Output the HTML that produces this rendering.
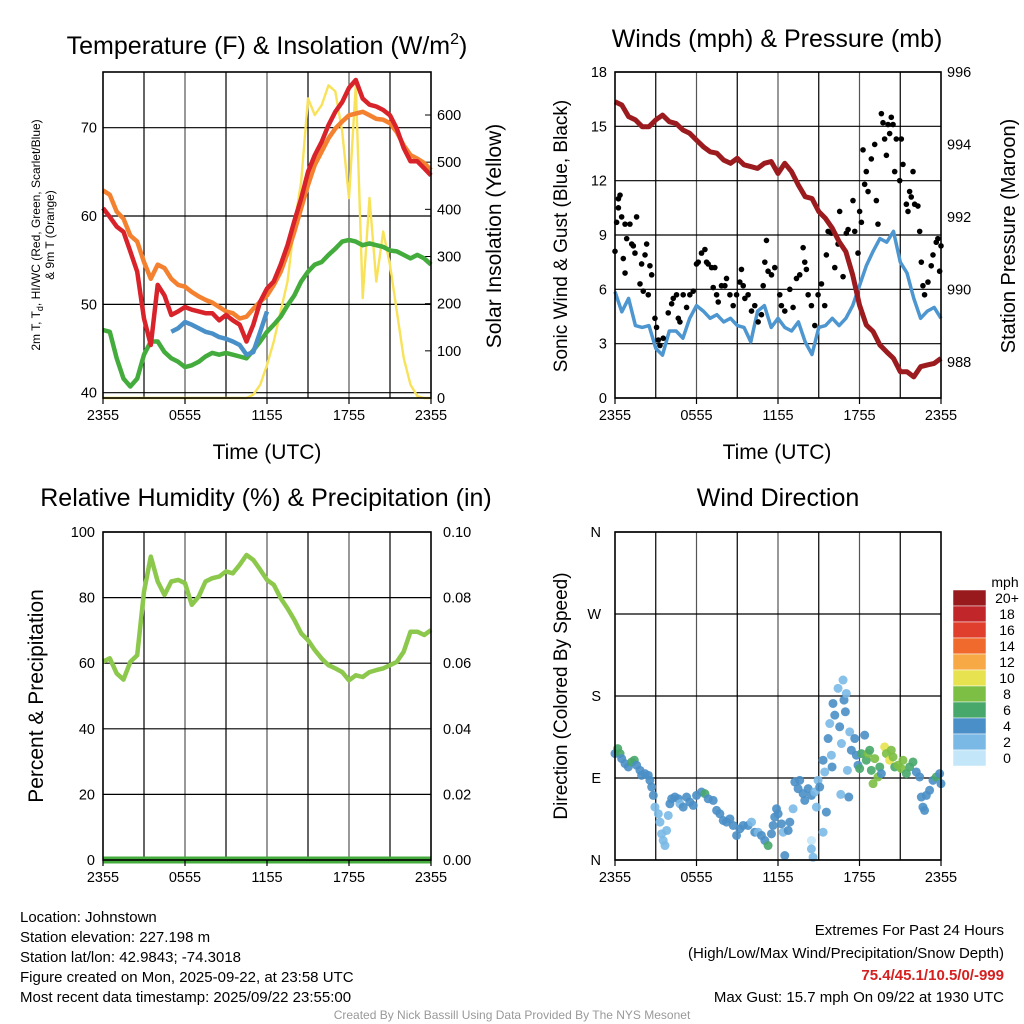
<!DOCTYPE html>
<html><head><meta charset="utf-8"><style>
html,body{margin:0;padding:0;background:#fff}
svg{display:block;font-family:"Liberation Sans",sans-serif}
</style></head><body>
<svg id="c" width="1024" height="1024" viewBox="0 0 1024 1024" xmlns="http://www.w3.org/2000/svg">
<rect x="0" y="0" width="1024" height="1024" fill="#fff"/>
<g id="g"></g>
<text x="267" y="54" font-size="25" text-anchor="middle">Temperature (F) &amp; Insolation (W/m<tspan dy="-10" font-size="16">2</tspan><tspan dy="10">)</tspan></text>
<text x="777" y="47" font-size="25" text-anchor="middle">Winds (mph) &amp; Pressure (mb)</text>
<text x="266" y="506" font-size="25" text-anchor="middle">Relative Humidity (%) &amp; Precipitation (in)</text>
<text x="778" y="506" font-size="25" text-anchor="middle">Wind Direction</text>
<text x="267" y="459" font-size="21" text-anchor="middle">Time (UTC)</text>
<text x="777" y="459" font-size="21" text-anchor="middle">Time (UTC)</text>
<text transform="translate(40,235) rotate(-90)" font-size="12" text-anchor="middle">2m T, T<tspan dy="3" font-size="9">d</tspan><tspan dy="-3">, HI/WC (Red, Green, Scarlet/Blue)</tspan></text>
<text transform="translate(54,235) rotate(-90)" font-size="12" text-anchor="middle">&amp; 9m T (Orange)</text>
<text transform="translate(501,236) rotate(-90)" font-size="21" text-anchor="middle">Solar Insolation (Yellow)</text>
<text transform="translate(567,236) rotate(-90)" font-size="19" text-anchor="middle">Sonic Wind &amp; Gust (Blue, Black)</text>
<text transform="translate(1015,236) rotate(-90)" font-size="20" text-anchor="middle">Station Pressure (Maroon)</text>
<text transform="translate(43,696) rotate(-90)" font-size="21" text-anchor="middle">Percent &amp; Precipitation</text>
<text transform="translate(567,696) rotate(-90)" font-size="19" text-anchor="middle">Direction (Colored By Speed)</text>
<g font-size="15">
<text x="20" y="922">Location: Johnstown</text>
<text x="20" y="942">Station elevation: 227.198 m</text>
<text x="20" y="962">Station lat/lon: 42.9843; -74.3018</text>
<text x="20" y="982">Figure created on Mon, 2025-09-22, at 23:58 UTC</text>
<text x="20" y="1002">Most recent data timestamp: 2025/09/22 23:55:00</text>
</g>
<g font-size="15" text-anchor="end">
<text x="1004" y="935">Extremes For Past 24 Hours</text>
<text x="1004" y="958">(High/Low/Max Wind/Precipitation/Snow Depth)</text>
<text x="1004" y="980" fill="#d42020" font-weight="bold">75.4/45.1/10.5/0/-999</text>
<text x="1004" y="1002">Max Gust: 15.7 mph On 09/22 at 1930 UTC</text>
</g>
<text x="512" y="1019" font-size="12" fill="#999" text-anchor="middle">Created By Nick Bassill Using Data Provided By The NYS Mesonet</text>
</svg>
<script>
// Half-hourly series, hour 0..24 from 2355 UTC
const tempT=[60.9,59.9,58.8,58.2,56,53.7,48.4,45.4,52.2,51,48.8,49.2,49.7,49.4,49.2,49,49,48.2,48.8,48.2,47.7,45.8,47.7,50.3,51.8,52.6,54.5,56.7,59.4,62,65,66.9,68.4,70.3,71.8,72.9,74.5,75.4,73.3,72.6,72.4,72,71.4,69.9,67.7,66.2,66.2,65.4,64.6];
const temp9m=[62.9,62.4,60.5,59.7,57.8,57.1,54.8,52.9,54.5,54.1,52.9,52.2,52,51.4,50.9,50.5,50.2,49.7,49.2,49,48.4,48.6,49.5,50.3,51,52.2,53.7,55.8,58.2,60.9,63.5,65.8,67.3,68.8,69.9,70.7,71.4,71.6,71.8,71.4,71,70.9,70.5,69.5,68,66.9,66.5,66,65.2];
const dewpt=[47.1,46.9,43.9,41.6,40.7,41.6,44.3,45.8,45.8,44.6,43.9,43.5,42.9,43.1,43.5,44.1,44.5,44.3,44.5,44.3,44.1,43.9,44.8,45.8,46.9,47.7,48.6,49.9,51,52.6,53.7,54.5,54.8,55.6,56.3,57.1,57.3,57.1,56.7,56.9,56.7,56.5,56.1,56,55.6,55.2,55.6,55.2,54.5];
const hiwcStart=10;
const hiwc=[46.9,47.3,48,47.7,47.3,46.9,46.7,46.3,46.1,45.8,45.4,44.3,44.6,46.9,49.2];
const solar=[0,0,0,0,0,0,0,0,0,0,0,0,0,0,0,0,0,0,0,0,0,0,7,28,70,120,184,247,367,459,635,600,621,663,650,565,424,663,212,424,247,353,282,184,85,28,4,0,0];
const pressure=[995.18,995.09,994.77,994.68,994.49,994.49,994.68,994.81,994.63,994.58,994.4,994.31,994.12,993.94,993.8,993.76,993.57,993.48,993.62,993.44,993.39,993.34,993.48,993.53,993.2,993.48,993.25,992.88,992.56,992.51,992.15,991.96,991.69,991.32,991.04,990.4,989.57,989.02,988.84,988.47,988.28,988.1,987.73,987.73,987.59,987.87,987.92,987.96,988.1];
const wind=[5.87,4.76,5.5,4.0,3.9,4.0,2.74,2.37,3.7,3.7,3.3,4.4,5.1,4.8,4.4,4.6,4.2,4.4,4.0,3.9,3.1,4.8,5.1,3.9,4.4,3.9,3.7,4.2,3.1,2.4,3.9,4.0,4.4,4.0,4.4,5.1,6.2,7.3,8.1,8.8,8.6,9.2,7.5,6.9,5.5,4.4,4.8,5.0,4.4];
const gustH=[0,.12,.25,.37,.25,.49,.74,.86,1.1,1.23,1.35,1.47,1.59,.61,.74,1.84,1.96,2.08,2.21,2.33,2.45,2.57,2.7,2.94,3.06,3.19,3.31,3.55,3.92,4.17,4.29,4.53,4.66,4.78,5.02,5.27,5.51,5.76,6.0,6.13,6.37,6.62,6.74,6.86,7.11,7.35,7.23,7.48,7.6,7.84,8.09,8.21,8.46,8.7,8.95,9.19,9.31,9.44,9.56,9.8,10.05,10.29,10.54,10.78,10.91,11.03,11.15,11.27,11.52,11.76,12.13,12.25,12.5,12.87,13.11,13.36,13.6,13.85,13.97,14.09,14.22,14.46,14.71,14.95,15.2,15.44,15.56,15.69,15.93,16.18,16.42,16.54,16.79,17.03,17.16,17.52,17.65,17.89,18.01,18.14,18.26,18.38,18.5,18.63,18.87,19.12,19.24,19.36,19.61,19.73,19.85,19.98,20.1,20.22,20.34,20.47,20.59,20.71,20.96,21.08,21.2,21.45,21.57,21.69,21.81,21.94,22.06,22.3,22.43,22.55,22.67,22.79,23.04,23.28,23.41,23.65,23.77,23.9,24];
const gustV=[8.1,9.7,11.0,11.2,10.5,10.0,9.6,8.8,9.6,8.5,8.4,8.0,10.0,7.7,6.9,6.3,7.4,5.9,7.9,8.5,5.7,7.3,6.8,4.4,3.9,3.2,2.9,3.3,4.7,5.2,5.5,5.7,4.4,4.2,5.7,5.0,5.7,5.9,7.4,7.5,8.0,8.2,7.5,7.4,7.2,7.2,6.1,5.7,5.3,6.2,6.2,6.6,5.7,5.1,5.7,6.4,7.1,6.2,5.5,5.7,4.8,5.1,4.2,4.6,6.2,7.5,8.7,7.0,6.8,7.2,5.7,5.1,4.8,6.0,5.0,6.6,6.8,8.3,7.5,7.1,5.7,5.1,4.0,5.7,6.3,5.1,7.9,9.2,9.1,7.2,8.5,10.3,6.7,9.1,9.3,10.9,9.2,8.0,10.3,9.7,13.7,11.8,12.5,11.4,13.2,14.0,10.9,9.6,15.7,15.2,14.3,13.4,15.1,14.6,15.5,15.1,12.5,14.3,12.0,14.3,12.9,10.7,10.3,11.4,11.1,12.5,10.7,10.6,9.2,7.5,6.2,5.7,6.4,7.3,7.9,8.6,8.8,7.0,8.4];
const rh=[60.5,61.5,56.9,55,60.4,62.4,81.8,92.5,84.9,80.8,84.9,85.4,84.4,77.8,80.3,84.9,85.9,86.4,88,87.4,90,93,91.5,88.5,85.4,83.9,79.8,76.7,73.2,69.1,67,64,61.4,59.4,58.4,57.3,54.8,56.3,55.8,57.3,57.9,58.4,59.4,60.4,63.5,69.6,69.6,68.6,70.1];
const precip=[0,0,0,0,0,0,0,0,0,0,0,0,0,0,0,0,0,0,0,0,0,0,0,0,0,0,0,0,0,0,0,0,0,0,0,0,0,0,0,0,0,0,0,0,0,0,0,0,0];
const dirH=[0,.2,.37,.49,.74,.98,1.23,1.42,1.59,1.84,1.96,2.21,2.45,2.57,2.7,2.82,2.94,3.19,3.31,3.43,3.55,3.68,3.8,3.92,4.04,4.17,4.41,4.66,4.78,5.02,5.27,5.51,5.76,6.0,6.37,6.62,6.86,7.23,7.48,7.72,7.97,8.21,8.46,8.7,8.95,9.19,9.44,9.8,10.05,10.29,10.54,10.78,11.03,11.27,11.52,11.64,11.76,11.89,12.01,12.25,12.38,12.5,12.75,12.87,13.11,13.24,13.48,13.6,13.85,13.97,14.22,14.46,14.71,14.83,14.46,14.46,14.58,14.95,15.07,15.32,15.56,15.32,15.44,15.69,15.81,15.93,15.98,16.05,16.18,16.42,16.54,16.67,16.79,16.86,17.03,16.96,17.11,17.28,17.4,17.65,17.77,17.89,18.01,18.14,18.38,18.5,18.63,18.75,18.87,19.0,19.12,19.36,19.49,19.61,19.85,19.98,20.22,20.34,20.47,20.59,20.83,21.08,21.2,21.45,21.69,21.94,22.18,22.43,22.55,22.67,22.79,22.92,23.16,23.41,23.65,23.9,24,17.21,16.62];
const dirDeg=[116.8,122.3,116.8,111.3,105.8,102.1,107.6,109.5,104,98.4,92.9,94.8,92.9,87.4,80.1,70.9,58.1,50.7,41.6,28.7,21.4,15.9,32.4,48.9,61.7,67.2,69.1,67.2,61.7,58.1,69.1,63.6,59.9,70.9,74.6,72.8,67.2,65.4,54.4,50.7,43.4,41.6,45.2,37.9,26.9,34.2,37.9,37.9,41.6,30.5,30.5,26.9,21.4,15.9,28.7,37.9,47.1,56.2,50.7,39.7,30.5,4.9,32.4,41.6,56.2,85.6,78.3,87.4,72.8,65.4,78.3,70.9,74.6,58.1,21.4,12.2,3,87.4,80.1,30.5,52.6,109.5,96.6,133.3,149.8,115,102.1,171.8,159,188.4,146.2,127.8,197.5,175.5,182.8,162.7,98.4,140.6,120.5,133.3,115,104,100.3,116.8,137,109.5,116.8,120.5,98.4,83.8,111.3,91.1,102.1,94.8,124.1,116.8,109.5,120.5,113.1,102.1,104,100.3,109.5,94.8,102.1,107.6,96.6,91.1,69.1,58.1,54.4,70.9,76.5,87.4,91.1,94.8,83.8,69.1,72];
const dirSpd=[5,7,7,5,5,5,7,7,5,5,5,5,5,5,5,5,3,3,3,3,3,3,3,3,5,5,5,5,3,5,5,5,5,5,5,7,5,5,5,5,5,5,5,5,5,5,5,5,3,5,3,5,5,7,5,5,5,5,5,5,3,5,5,5,3,5,5,5,5,5,5,5,3,3,1,3,3,3,5,3,5,5,3,5,3,3,5,5,5,3,5,3,3,5,3,5,3,3,5,5,5,5,7,7,5,7,9,7,7,9,9,9,7,5,10.5,9,10.5,9,9,7,9,9,9,7,7,7,5,5,5,5,5,5,5,5,7,5,5,5,3];
const cbLabels=["20+","18","16","14","12","10","8","6","4","2","0"];
const cbColors=["#981a1d","#c1262b","#e13f2e","#ef6a2c","#f6a945","#e7e24f","#7cbf44","#48a76a","#4a8fc7","#7ab9e6","#c3e6f8"];
const timeTicks=["2355","0555","1155","1755","2355"];
const tempTicks=[40,50,60,70];
const solarTicks=[0,100,200,300,400,500,600];
const windTicks=[0,3,6,9,12,15,18];
const presTicks=[988,990,992,994,996];
const rhTicks=[0,20,40,60,80,100];
const precipTicks=["0.00","0.02","0.04","0.06","0.08","0.10"];
const dirTicks=["N","E","S","W","N"];

const NS="http://www.w3.org/2000/svg";
const G=document.getElementById('g');
function el(tag,attrs,parent){const e=document.createElementNS(NS,tag);for(const k in attrs)e.setAttribute(k,attrs[k]);(parent||G).appendChild(e);return e;}
function lin(d0,d1,r0,r1){return v=>r0+(v-d0)*(r1-r0)/(d1-d0);}

function frame(L,T,R,B,name){
  const g=el('g',{});
  
  
  for(let i=1;i<8;i++){const x=L+(R-L)*i/8;el('line',{x1:x,y1:T,x2:x,y2:B,stroke:(i%2?'#000':'#555'),'stroke-width':1.2},g);}
  return g;
}
function border(L,T,R,B,name){
  const r=el('rect',{x:L,y:T,width:R-L,height:B-T,fill:'none',stroke:'#000','stroke-width':1.6});
  
  
  const tg=el('g',{'font-size':14.5,'text-anchor':'middle'});
  
  
  timeTicks.forEach((t,i)=>{const x=L+(R-L)*i/4;el('line',{x1:x,y1:B,x2:x,y2:B+6,stroke:'#000','stroke-width':1.2},tg);const tx=el('text',{x:x,y:B+22},tg);tx.textContent=t;});
}
function hline(g,L,R,y,c){el('line',{x1:L,y1:y,x2:R,y2:y,stroke:c||'#000','stroke-width':1.2},g);}
function pathFrom(xs,ys){return xs.map((x,i)=>(i?'L':'M')+x.toFixed(1)+','+ys[i].toFixed(1)).join('');}

// ---------- Panel 1 ----------
(function(){
  const L=103,R=431,T=72,B=398;
  const X=lin(0,24,L,R), Y=lin(40,70,392.7,127.7), YS=lin(0,600,398,115);
  const g=frame(L,T,R,B,'temp');
  tempTicks.forEach(v=>hline(g,L,R,Y(v),'#000'));
  const lg=el('g',{'font-size':14.5,'text-anchor':'end'});
  
  tempTicks.forEach(v=>{const t=el('text',{x:L-6,y:Y(v)+5},lg);t.textContent=v;});
  const rg=el('g',{'font-size':14.5,'text-anchor':'start'});
  
  solarTicks.forEach(v=>{const t=el('text',{x:R+6,y:YS(v)+5},rg);t.textContent=v;el('line',{x1:R-6,y1:YS(v),x2:R,y2:YS(v),stroke:'#000'},rg);});
  const hx=solar.map((v,i)=>X(i/2));
  const ps=el('path',{d:pathFrom(hx,solar.map(YS)),fill:'none',stroke:'#f8e25a','stroke-width':2.4,'stroke-linejoin':'round'});
  
  const pd=el('path',{d:pathFrom(hx,dewpt.map(Y)),fill:'none',stroke:'#44ac3c','stroke-width':4.5,'stroke-linejoin':'round'});
  
  const po=el('path',{d:pathFrom(hx,temp9m.map(Y)),fill:'none',stroke:'#f4812f','stroke-width':4.5,'stroke-linejoin':'round'});
  
  const pr=el('path',{d:pathFrom(hx,tempT.map(Y)),fill:'none',stroke:'#d8232a','stroke-width':4.5,'stroke-linejoin':'round'});
  
  const pb=el('path',{d:pathFrom(hiwc.map((v,i)=>X((hiwcStart+i)/2)),hiwc.map(Y)),fill:'none',stroke:'#4a90c8','stroke-width':4.5,'stroke-linejoin':'round'});
  
  border(L,T,R,B,'temp');
})();

// ---------- Panel 2 ----------
(function(){
  const L=615,R=941,T=72,B=398;
  const X=lin(0,24,L,R), Y=lin(0,18,B,T), YP=lin(988,996,362,72);
  const g=frame(L,T,R,B,'wind');
  windTicks.forEach(v=>hline(g,L,R,Y(v),'#000'));
  const lg=el('g',{'font-size':14.5,'text-anchor':'end'});
  
  windTicks.forEach(v=>{const t=el('text',{x:L-8,y:Y(v)+5},lg);t.textContent=v;});
  const rg=el('g',{'font-size':14.5,'text-anchor':'start'});
  
  presTicks.forEach(v=>{const t=el('text',{x:R+6,y:YP(v)+5},rg);t.textContent=v;});
  const hx=wind.map((v,i)=>X(i/2));
  const pw=el('path',{d:pathFrom(hx,wind.map(Y)),fill:'none',stroke:'#4d96d0','stroke-width':3.5,'stroke-linejoin':'round'});
  
  const dg=el('g',{fill:'#000'});
  
  gustH.forEach((h,i)=>{const c=el('circle',{cx:X(h),cy:Y(gustV[i]),r:2.8},dg);});
  const pp=el('path',{d:pathFrom(hx,pressure.map(YP)),fill:'none',stroke:'#9b1b1e','stroke-width':5,'stroke-linejoin':'round'});
  
  border(L,T,R,B,'wind');
})();

// ---------- Panel 3 ----------
(function(){
  const L=103,R=431,T=532,B=860;
  const X=lin(0,24,L,R), Y=lin(0,100,B,T), YP=lin(0,0.1,B,T);
  const g=frame(L,T,R,B,'rh');
  rhTicks.forEach(v=>hline(g,L,R,Y(v),'#000'));
  const lg=el('g',{'font-size':14.5,'text-anchor':'end'});
  
  rhTicks.forEach(v=>{const t=el('text',{x:L-8,y:Y(v)+5},lg);t.textContent=v;});
  const rg=el('g',{'font-size':14.5,'text-anchor':'start'});
  
  precipTicks.forEach(v=>{const t=el('text',{x:R+12,y:YP(parseFloat(v))+5},rg);t.textContent=v;});
  const hx=rh.map((v,i)=>X(i/2));
  const p1=el('path',{d:pathFrom(hx,rh.map(Y)),fill:'none',stroke:'#8cc84b','stroke-width':4.5,'stroke-linejoin':'round'});
  
  const p2=el('path',{d:pathFrom(hx,precip.map(YP)),fill:'none',stroke:'#44ac3c','stroke-width':7});
  
  border(L,T,R,B,'rh');
})();

// ---------- Panel 4 ----------
function spdColor(s){const idx=Math.min(10,Math.floor(s/2));return cbColors[10-idx];}
(function(){
  const L=615,R=941,T=532,B=860;
  const X=lin(0,24,L,R), Y=lin(0,360,B,T);
  const g=frame(L,T,R,B,'wdir');
  dirTicks.forEach((t,i)=>hline(g,L,R,Y(i*90),'#000'));
  const lg=el('g',{'font-size':14.5,'text-anchor':'end'});
  
  dirTicks.forEach((t,i)=>{const tx=el('text',{x:L-14,y:Y(i*90)+5},lg);tx.textContent=t;});
  const dg=el('g',{'fill-opacity':0.9});
  
  dirH.forEach((h,i)=>{const c=el('circle',{cx:X(h),cy:Y(dirDeg[i]),r:4.5,fill:spdColor(dirSpd[i])},dg);});
  border(L,T,R,B,'wdir');
  const cb=el('g',{});
  
  const mt=el('text',{x:1005,y:587,'font-size':14,'text-anchor':'middle'},cb);mt.textContent='mph';
  cbLabels.forEach((lab,i)=>{
    const y=590+i*16;
    el('rect',{x:953,y:y,width:33,height:16,fill:cbColors[i],stroke:'#fff','stroke-width':0.5},cb);
    const t=el('text',{x:1007,y:y+13,'font-size':14,'text-anchor':'middle'},cb);t.textContent=lab;
  });
})();
</script>
</body></html>
